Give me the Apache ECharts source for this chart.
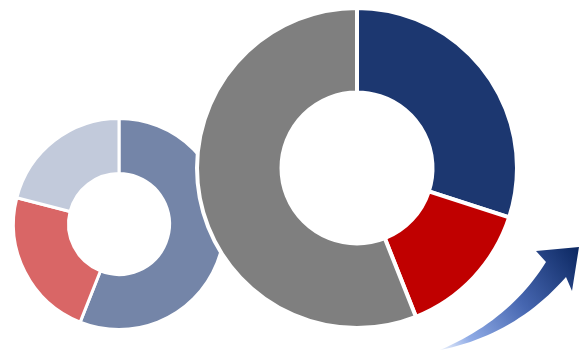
<!DOCTYPE html>
<html>
<head>
<meta charset="utf-8">
<style>
  html, body { margin: 0; padding: 0; background: #ffffff; }
  #chart { width: 579px; height: 353px; }
</style>
<script src="https://cdn.jsdelivr.net/npm/echarts@6/dist/echarts.min.js"></script>
</head>
<body>
<div id="chart"></div>
<script>
// Shares for the two rings (percent, clockwise from 12 o'clock)
const smallCategories = ['A', 'B', 'C'];
const smallValues = [56, 23, 21];
const smallColors = ['#7485a8', '#d96666', '#c2cadb'];

const bigCategories = ['A', 'B', 'C'];
const bigValues = [30, 14, 56];
const bigColors = ['#1c3770', '#c00000', '#7f7f7f'];

function toData(names, values, colors) {
  return names.map((n, i) => ({ name: n, value: values[i], itemStyle: { color: colors[i] } }));
}

// Sample a quadratic curve into polygon points
function quad(p0, c, p1, steps) {
  const pts = [];
  for (let i = 0; i <= steps; i++) {
    const t = i / steps, u = 1 - t;
    pts.push([u * u * p0[0] + 2 * u * t * c[0] + t * t * p1[0],
              u * u * p0[1] + 2 * u * t * c[1] + t * t * p1[1]]);
  }
  return pts;
}

// Outline of the rising arrow: upper edge of the shaft, the head, lower edge back to the tail
const arrowPoints = []
  .concat(quad([440, 350], [510, 320], [546, 262], 24))
  .concat([[536, 251], [579, 247], [572, 291]])
  .concat(quad([566, 277], [515, 335], [440, 350], 24));

const chart = echarts.init(document.getElementById('chart'), null, { renderer: 'canvas' });

chart.setOption({
  animation: false,
  backgroundColor: '#ffffff',
  series: [
    {
      type: 'pie',
      z: 1,
      center: [119, 224],
      radius: [50.5, 105.5],
      startAngle: 90,
      clockwise: true,
      silent: true,
      label: { show: false },
      labelLine: { show: false },
      itemStyle: { borderColor: '#ffffff', borderWidth: 3 },
      data: toData(smallCategories, smallValues, smallColors)
    },
    {
      type: 'pie',
      z: 2,
      center: [357, 168],
      radius: [75.5, 160],
      startAngle: 90,
      clockwise: true,
      silent: true,
      label: { show: false },
      labelLine: { show: false },
      itemStyle: { borderColor: '#ffffff', borderWidth: 4 },
      data: toData(bigCategories, bigValues, bigColors)
    }
  ],
  graphic: [
    {
      type: 'polygon',
      z: 10,
      silent: true,
      shape: { points: arrowPoints },
      style: {
        fill: new echarts.graphic.LinearGradient(440, 350, 579, 250, [
          { offset: 0, color: '#eef3fc' },
          { offset: 0.18, color: '#8fabe6' },
          { offset: 0.55, color: '#4666b0' },
          { offset: 1, color: '#0c2862' }
        ], true)
      }
    }
  ]
});
</script>
</body>
</html>
